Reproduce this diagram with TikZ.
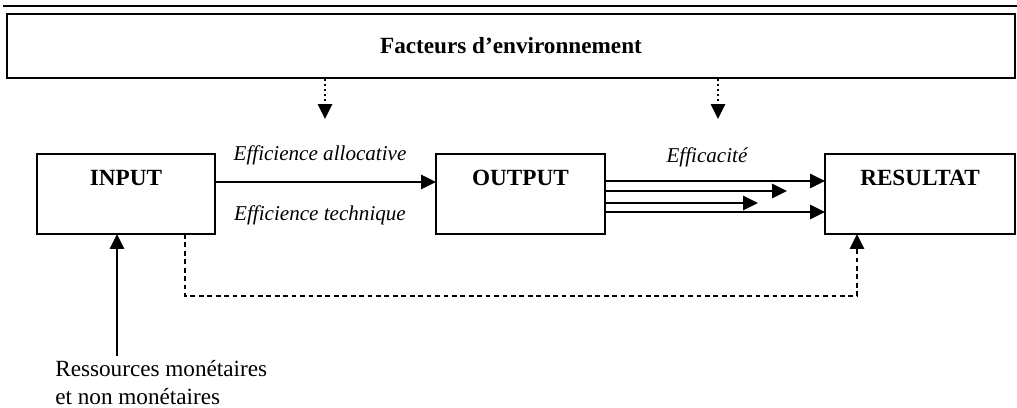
\documentclass[tikz,border=0pt]{standalone}
\usepackage{fontspec}
\setmainfont{Liberation Serif}
\usepackage{tikz}
\usetikzlibrary{arrows.meta, positioning}

\tikzset{
  box/.style={draw, line width=1.2pt, inner sep=0pt, outer sep=0pt,
    minimum height=2cm, text depth=0.8cm, font=\bfseries\fontsize{16.5}{20}\selectfont},
  arr/.style={line width=1.6pt, -{Triangle[length=10.5pt,width=10pt]}},
  lbl/.style={font=\itshape\fontsize{15}{19}\selectfont}
}

\begin{document}
\begin{tikzpicture}[scale=1, font=\fontsize{16.5}{20}\selectfont]
\useasboundingbox (0,0) rectangle (25.425,10.2);

% top rule
\draw[line width=1.6pt] (0.075,10.05) -- (25.425,10.05);

% environment box
\node[draw, line width=1.4pt, minimum width=25.2cm, minimum height=1.6cm,
  inner sep=0pt, font=\bfseries\fontsize{16.5}{20}\selectfont] (env) at (12.775,9.05) {Facteurs d’environnement};

% the three boxes
\node[box, minimum width=4.45cm] (input) at (3.15,5.35) {INPUT};
\node[box, minimum width=4.225cm] (output) at (13.0125,5.35) {OUTPUT};
\node[box, minimum width=4.75cm] (resultat) at (23.0,5.35) {RESULTAT};

% dotted arrows from the environment
\coordinate (d1) at (8.125,7.225);
\coordinate (d2) at (17.95,7.225);
\draw[arr, dotted] (d1 |- env.south) -- (d1);
\draw[arr, dotted] (d2 |- env.south) -- (d2);

% input to output
\draw[arr] ([yshift=0.3cm]input.east) -- ([yshift=0.3cm]output.west);
\node[lbl] (alloc) at (8.0,6.325) {Efficience allocative};
\node[lbl] (techn) at (8.0,4.825) {Efficience technique};

% output to resultat
\node[lbl] (effic) at (17.675,6.275) {Efficacité};
\draw[arr] ([yshift=0.325cm]output.east) -- ([yshift=0.325cm]resultat.west);
\draw[arr] ([yshift=0.075cm]output.east) -- ([xshift=-0.95cm,yshift=0.075cm]resultat.west);
\draw[arr] ([yshift=-0.225cm]output.east) -- ([xshift=-1.675cm,yshift=-0.225cm]resultat.west);
\draw[arr] ([yshift=-0.45cm]output.east) -- ([yshift=-0.45cm]resultat.west);

% dashed link input to resultat
\coordinate (c1) at (4.625,2.8);
\coordinate (c2) at (21.425,2.8);
\draw[arr, dash pattern=on 3.4pt off 2.6pt] (c1 |- input.south) -- (c1) -- (c2) -- (c2 |- resultat.south);

% resources
\node[align=left, anchor=north west, inner sep=0pt] (res) at (1.375,1.2)
  {Ressources monétaires\\et non monétaires};
\coordinate (src) at (2.925,1.3);
\draw[arr] (src) -- (src |- input.south);

\end{tikzpicture}
\end{document}
